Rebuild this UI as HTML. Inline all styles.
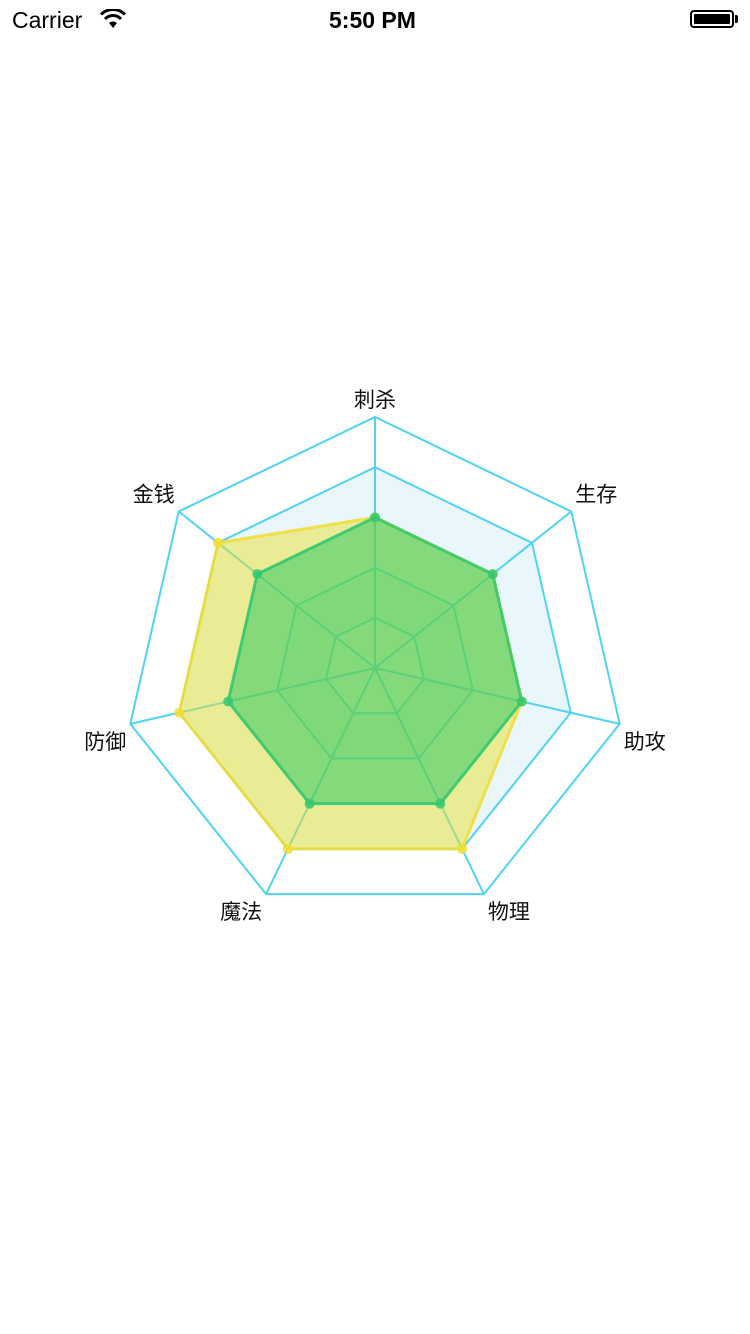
<!DOCTYPE html>
<html><head><meta charset="utf-8">
<style>
body{margin:0;width:750px;height:1334px;background:#fff;overflow:hidden;font-family:"Liberation Sans","Noto Sans CJK SC",sans-serif;}
.sb{position:absolute;top:0;left:0;width:750px;height:40px;}
</style></head><body>
<div class="sb">
<span style="position:absolute;left:12px;top:7px;font-size:23px;">Carrier</span>
<svg style="position:absolute;left:100px;top:9px" width="26" height="20" viewBox="0 0 26 20"><path d="M13 19 L9 14 A6 6 0 0 1 17 14 Z" fill="#000"/><path d="M5 10 A11 11 0 0 1 21 10" stroke="#000" stroke-width="3" fill="none"/><path d="M1 5.5 A17 17 0 0 1 25 5.5" stroke="#000" stroke-width="3" fill="none"/></svg>
<span style="position:absolute;left:329px;top:7px;font-size:23px;font-weight:bold;">5:50 PM</span>
<div style="position:absolute;left:690px;top:10px;width:44px;height:18px;border:2px solid #000;border-radius:4px;box-sizing:border-box;padding:2px;"><div style="background:#000;width:100%;height:100%;border-radius:1px"></div></div>
<div style="position:absolute;left:735px;top:15px;width:3px;height:8px;background:#000;border-radius:0 2px 2px 0"></div>
</div>
<svg id="chart" width="750" height="1334" style="position:absolute;left:0;top:0"></svg>
<script>
const indicators=['刺杀','生存','助攻','物理','魔法','防御','金钱'];
const seriesA=[60,60,60,60,60,60,60];
const seriesB=[60,60,60,80,80,80,80];
const maxVal=100;
const ringLevels=[20,40,60,80,100];
const cx=375,cy=668,R=251;
const NS='http://www.w3.org/2000/svg';
const svg=document.getElementById('chart');
function ang(i){return (-90+i*360/indicators.length)*Math.PI/180;}
function pt(i,v){const r=R*v/maxVal;return [cx+r*Math.cos(ang(i)),cy+r*Math.sin(ang(i))];}
function poly(vals){return vals.map((v,i)=>pt(i,v).join(',')).join(' ');}
function el(t,a){const e=document.createElementNS(NS,t);for(const k in a)e.setAttribute(k,a[k]);svg.appendChild(e);return e;}
for(let j=ringLevels.length-1;j>=0;j--){
  const e=el('polygon',{points:poly(indicators.map(()=>ringLevels[j])),fill:(j%2===1)?'#e9f6fc':'#fff',stroke:'none'});
  
  
}
ringLevels.forEach(l=>{
  const e=el('polygon',{points:poly(indicators.map(()=>l)),fill:'none',stroke:'#4fd3f3','stroke-width':2});
  
  
});
indicators.forEach((n,i)=>{
  const p=pt(i,maxVal);
  const e=el('line',{x1:cx,y1:cy,x2:p[0],y2:p[1],stroke:'#4fd3f3','stroke-width':2});
  
  
  const c=Math.cos(ang(i)),s=Math.sin(ang(i));
  let anchor='middle',x=p[0];
  if(c>0.1){anchor='start';x=p[0]+4;}else if(c<-0.1){anchor='end';x=p[0]-4;}
  const y=p[1]+(s<0?-17:18)+7;
  const t=el('text',{x:x,y:y,'text-anchor':anchor,'font-size':21,fill:'#111','font-family':'"Liberation Sans","Noto Sans CJK SC",sans-serif'});
  t.textContent=n;
  
  
});
function series(vals,fill,stroke,name){
  const p=el('polygon',{points:poly(vals),fill:fill,stroke:stroke,'stroke-width':3,'stroke-linejoin':'round'});
  
  
  vals.forEach((v,i)=>{const q=pt(i,v);
    const c=el('circle',{cx:q[0],cy:q[1],r:5,fill:stroke});
    
    });
}
series(seriesB,'rgba(236,224,45,0.5)','rgba(240,222,50,0.85)','series-b');
series(seriesA,'rgba(38,200,100,0.55)','rgba(50,200,110,0.85)','series-a');
</script>
</body></html>
